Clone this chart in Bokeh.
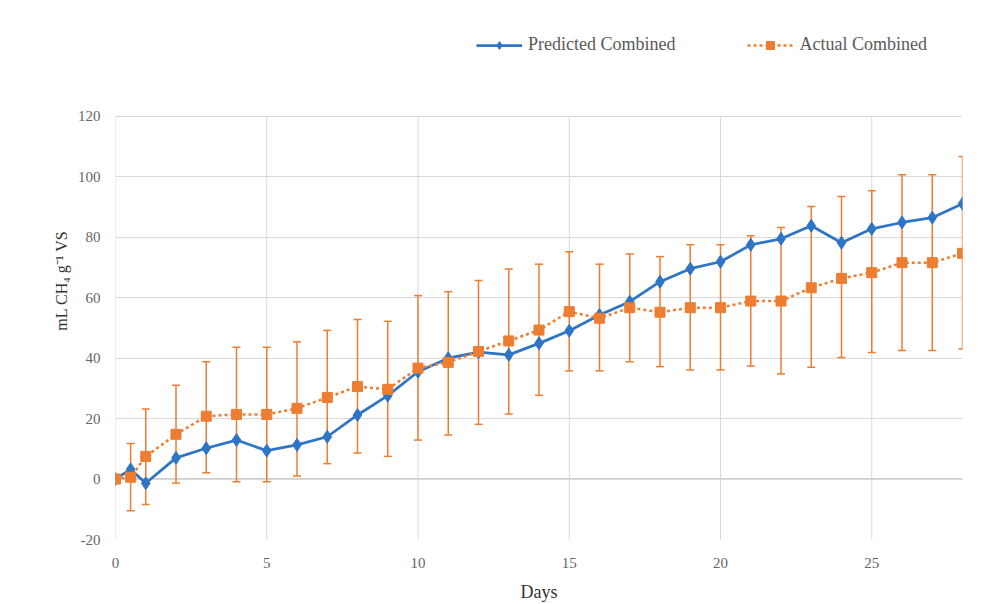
from bokeh.plotting import figure
from bokeh.models import (ColumnDataSource, Range1d, Legend, LegendItem, Whisker,
                          TeeHead, Span, FixedTicker, PrintfTickFormatter)
from bokeh.embed import file_html
from bokeh.resources import INLINE

# ---- data ----
days = [0, 0.5, 1, 2, 3, 4, 5, 6, 7, 8, 9, 10, 11, 12, 13, 14, 15, 16, 17, 18, 19,
        20, 21, 22, 23, 24, 25, 26, 27, 28]
predicted = [0, 3.2, -1.4, 7.0, 10.2, 12.9, 9.4, 11.3, 14.0, 21.2, 27.6, 35.5, 40.0,
             42.0, 41.1, 44.9, 49.1, 54.3, 58.7, 65.3, 69.6, 71.9, 77.5, 79.5, 83.8,
             78.2, 82.8, 84.9, 86.5, 91.1]
actual = [0, 0.6, 7.5, 14.8, 20.8, 21.4, 21.4, 23.4, 27.0, 30.6, 29.7, 36.7, 38.6,
          42.2, 45.7, 49.3, 55.4, 53.2, 56.7, 55.2, 56.7, 56.7, 58.9, 58.9, 63.3,
          66.4, 68.3, 71.6, 71.6, 74.7]
actual_upper = [0, 11.8, 23.2, 31.0, 38.8, 43.6, 43.6, 45.4, 49.2, 52.8, 52.2, 60.7,
                62.0, 65.7, 69.5, 71.1, 75.2, 71.1, 74.5, 73.6, 77.5, 77.5, 80.5, 83.2,
                90.2, 93.5, 95.4, 100.7, 100.7, 106.7]
actual_lower = [0, -10.5, -8.4, -1.3, 2.1, -0.9, -0.9, 1.0, 5.1, 8.6, 7.5, 12.9, 14.6,
                18.1, 21.5, 27.7, 35.8, 35.8, 38.8, 37.2, 36.1, 36.1, 37.4, 34.8, 37.0,
                40.2, 41.9, 42.5, 42.5, 43.0]
x_ticks = [0, 5, 10, 15, 20, 25]
y_ticks = [-20, 0, 20, 40, 60, 80, 100, 120]

BLUE = "#2E75C6"
ORANGE = "#ED7D31"
GRID = "#D9D9D9"
FONT = "Liberation Serif"

src = ColumnDataSource(dict(x=days, pred=predicted, act=actual,
                            upper=actual_upper, lower=actual_lower))

# the frame reaches up to the legend row; the value axis itself stops at 120
p = figure(width=991, height=604, x_range=Range1d(0, 28),
           y_range=Range1d(y_ticks[0], 151.4),
           output_backend="svg", toolbar_location=None,
           min_border_left=115, min_border_right=29, min_border_top=21,
           min_border_bottom=65)
p.outline_line_color = None
p.background_fill_color = "white"
p.border_fill_color = "white"

# grids
p.xgrid.visible = False
p.ygrid.ticker = FixedTicker(ticks=y_ticks)
p.ygrid.grid_line_color = GRID
p.ygrid.grid_line_width = 1
p.segment(x0=x_ticks, y0=[y_ticks[0]] * len(x_ticks), x1=x_ticks,
          y1=[y_ticks[-1]] * len(x_ticks), line_color=GRID, line_width=1,
          level="image")

# axes
p.xaxis.ticker = FixedTicker(ticks=x_ticks)
p.yaxis.ticker = FixedTicker(ticks=y_ticks)
p.yaxis.formatter = PrintfTickFormatter(format="%d")
for ax in (p.xaxis[0], p.yaxis[0]):
    ax.axis_line_color = None
    ax.major_tick_line_color = None
    ax.minor_tick_line_color = None
    ax.major_tick_out = 0
    ax.major_tick_in = 0
    ax.minor_tick_out = 0
    ax.minor_tick_in = 0
    ax.major_label_text_font = FONT
    ax.major_label_text_font_size = "15px"
    ax.major_label_text_color = "#666666"
    ax.axis_label_text_font = FONT
    ax.axis_label_text_font_style = "normal"
    ax.axis_label_text_color = "#333333"
p.xaxis.major_label_standoff = 18
p.yaxis.major_label_standoff = 15
p.xaxis.axis_label = "Days"
p.xaxis.axis_label_text_font_size = "18px"
p.xaxis.axis_label_standoff = 11
p.yaxis.axis_label = "mL CH\u2084 g\u207b\u00b9 VS"
p.yaxis.axis_label_text_font_size = "16px"
p.yaxis.axis_label_standoff = 5

# zero line
p.add_layout(Span(location=0, dimension="width", line_color="#BFBFBF",
                  line_width=1.5, level="image"))

# error bars of the actual series (under the series lines)
wh = Whisker(base="x", upper="upper", lower="lower", source=src,
             line_color=ORANGE, line_width=1.5, level="underlay",
             upper_head=TeeHead(size=8, line_color=ORANGE, line_width=1.5),
             lower_head=TeeHead(size=8, line_color=ORANGE, line_width=1.5))
p.add_layout(wh)

# predicted series
pl = p.line("x", "pred", source=src, line_color=BLUE, line_width=2.75)
ps = p.scatter("x", "pred", source=src, marker="diamond", size=13,
               fill_color=BLUE, line_color=BLUE)

# actual series
al = p.line("x", "act", source=src, line_color=ORANGE, line_width=2.5, line_dash="3 3")
asq = p.scatter("x", "act", source=src, marker="square", size=10,
                fill_color=ORANGE, line_color=ORANGE)

legend = Legend(items=[LegendItem(label="Predicted Combined", renderers=[pl, ps]),
                       LegendItem(label="Actual Combined", renderers=[al, asq])],
                location=(361, 484), orientation="horizontal", border_line_color=None,
                background_fill_alpha=0, padding=0, margin=0, spacing=72,
                glyph_width=46, glyph_height=20, label_standoff=6,
                label_text_font=FONT, label_text_font_size="18px",
                label_text_color="#595959")
p.add_layout(legend)

open("out.html", "w").write(file_html(p, INLINE))
